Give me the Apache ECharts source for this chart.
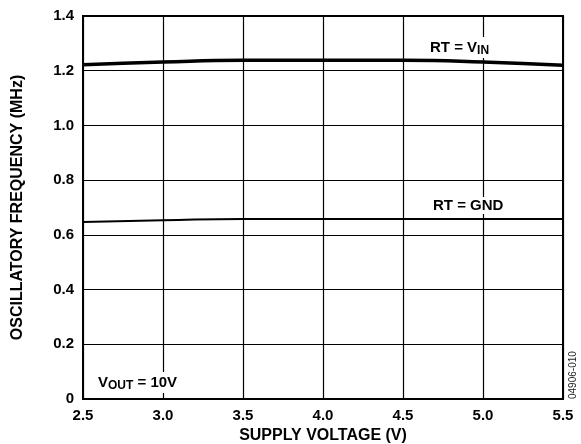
<!DOCTYPE html>
<html><head><meta charset="utf-8">
<script src="https://cdn.jsdelivr.net/npm/echarts@6/dist/echarts.min.js"></script>
<style>html,body{margin:0;padding:0;background:#fff}#c{width:581px;height:444px}</style>
</head><body><div id="c"></div>
<script>
var supplyVoltage = [2.5, 3.0, 3.5, 4.0, 4.5, 5.0, 5.5];
var freqRtVin = [1.222, 1.232, 1.238, 1.238, 1.238, 1.232, 1.220];
var freqRtGnd = [0.647, 0.653, 0.658, 0.658, 0.658, 0.658, 0.658];
var xTicks = ['2.5','3.0','3.5','4.0','4.5','5.0','5.5'];
var yTicks = ['0','0.2','0.4','0.6','0.8','1.0','1.2','1.4'];

var FF = '"Liberation Sans", Arial, sans-serif';
var chart = echarts.init(document.getElementById('c'));
function pairs(xs, ys){ return xs.map(function(x,i){ return [x, ys[i]]; }); }
var option = {
  animation: false,
  grid: {left: 83, right: 18, top: 16, bottom: 45, show: true, borderColor: '#000', borderWidth: 2,
         containLabel: false, outerBoundsMode: 'none'},
  xAxis: {
    type: 'value', min: 2.5, max: 5.5, interval: 0.5,
    name: 'SUPPLY VOLTAGE (V)', nameLocation: 'middle', nameGap: 28,
    nameTextStyle: {fontFamily: FF, fontWeight: 'bold', fontSize: 16, color: '#000'},
    axisLine: {show: true, lineStyle: {color: '#000', width: 2}},
    axisTick: {show: false},
    axisLabel: {fontFamily: FF, fontWeight: 'bold', fontSize: 15, color: '#000', margin: 9,
      formatter: function(v){ var s = v.toFixed(1); return xTicks.indexOf(s) >= 0 ? s : ''; }},
    splitLine: {show: true, lineStyle: {color: '#000', width: 1.2}}
  },
  yAxis: {
    type: 'value', min: 0, max: 1.4, interval: 0.2,
    name: 'OSCILLATORY FREQUENCY (MHz)', nameLocation: 'middle', nameGap: 57, nameRotate: 90,
    nameTextStyle: {fontFamily: FF, fontWeight: 'bold', fontSize: 16, color: '#000'},
    axisLine: {show: true, lineStyle: {color: '#000', width: 2}},
    axisTick: {show: false},
    axisLabel: {fontFamily: FF, fontWeight: 'bold', fontSize: 15, color: '#000', margin: 9,
      formatter: function(v){ var s = v === 0 ? '0' : v.toFixed(1); return yTicks.indexOf(s) >= 0 ? s : ''; }},
    splitLine: {show: true, lineStyle: {color: '#000', width: 1.2}}
  },
  series: [
    {type: 'line', data: pairs(supplyVoltage, freqRtVin), smooth: true, symbol: 'none',
     lineStyle: {color: '#000', width: 3.5}, z: 5},
    {type: 'line', data: pairs(supplyVoltage, freqRtGnd), smooth: true, symbol: 'none',
     lineStyle: {color: '#000', width: 2}, z: 5}
  ],
  graphic: [
    {type: 'text', left: 428, top: 37, z: 10, style: {
      text: '{a|RT = V}{s|IN}', backgroundColor: '#fff', padding: [1, 2, 1, 2],
      rich: {a: {fontFamily: FF, fontWeight: 'bold', fontSize: 15, fill: '#000'},
             s: {fontFamily: FF, fontWeight: 'bold', fontSize: 12, fill: '#000', padding: [7, 0, 0, 0]}}}},
    {type: 'text', left: 431, top: 197, z: 10, style: {
      text: 'RT = GND', fontFamily: FF, fontWeight: 'bold', fontSize: 15, fill: '#000', backgroundColor: '#fff', padding: [1, 2, 1, 2]}},
    {type: 'text', left: 96, top: 372, z: 10, style: {
      text: '{a|V}{s|OUT}{a| = 10V}', backgroundColor: '#fff', padding: [1, 2, 1, 2],
      rich: {a: {fontFamily: FF, fontWeight: 'bold', fontSize: 15, fill: '#000'},
             s: {fontFamily: FF, fontWeight: 'bold', fontSize: 12, fill: '#000', padding: [7, 0, 0, 0]}}}},
    {type: 'text', x: 573, y: 399, rotation: Math.PI / 2, z: 10, style: {
      text: '04906-010', fontFamily: FF, fontSize: 10, fill: '#222', align: 'left', verticalAlign: 'middle'}}
  ]
};
chart.setOption(option);
</script></body></html>
